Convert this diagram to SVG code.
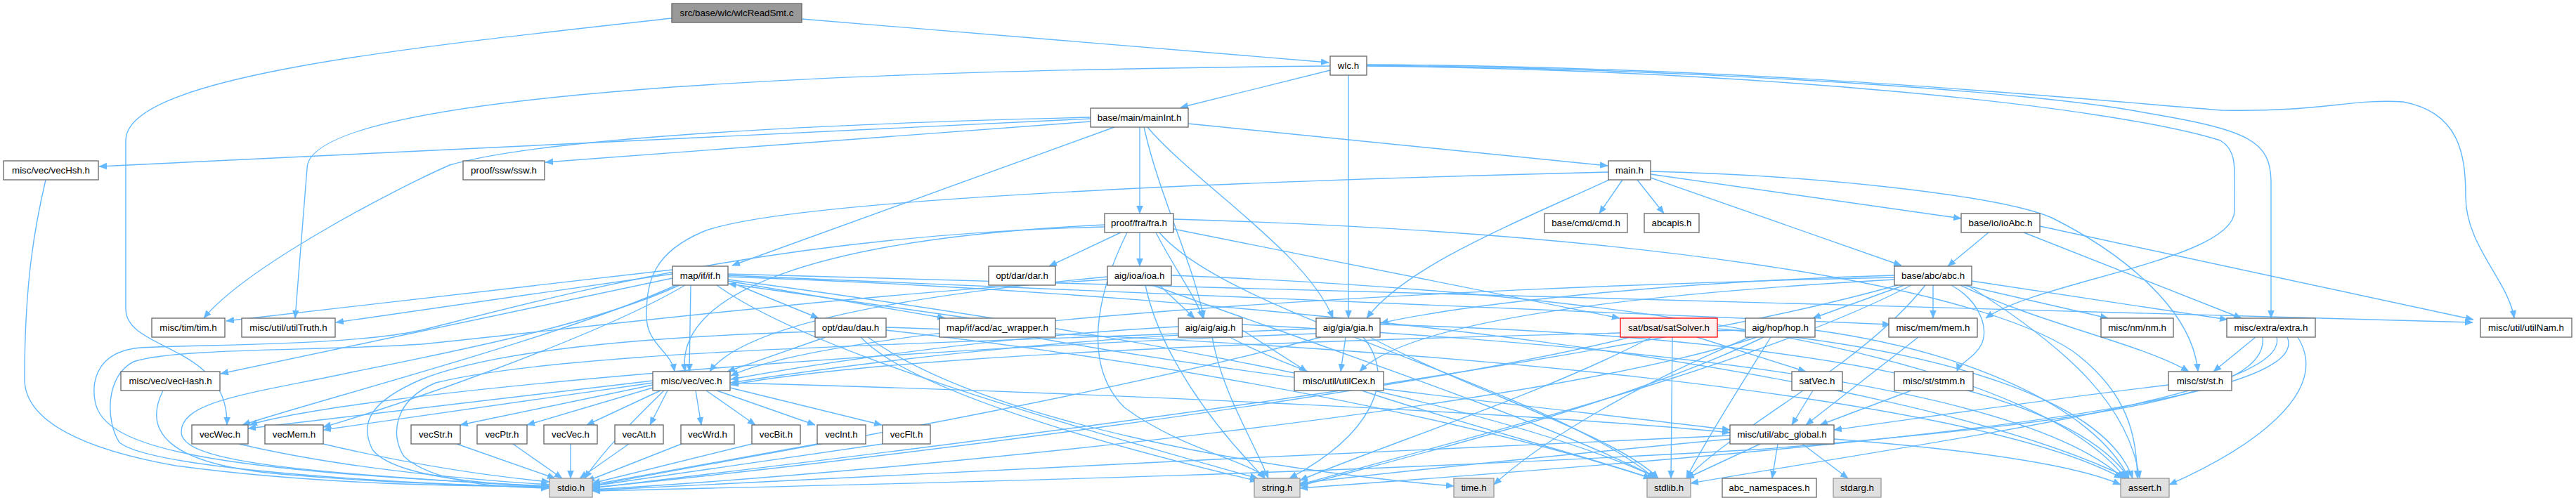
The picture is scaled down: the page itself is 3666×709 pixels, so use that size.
<svg xmlns="http://www.w3.org/2000/svg" width="3666" height="709" viewBox="0 0 3666 709">
<style>
.n rect{fill:#ffffff;stroke:#666666;stroke-width:1.3}
.root rect{fill:#999999;stroke:#666666;stroke-width:1.3}
.sys rect{fill:#e0e0e0;stroke:#999999;stroke-width:1.3}
.trunc rect{fill:#fff0f0;stroke:#ff0000;stroke-width:1.3}
text{font-family:"Liberation Sans",Arial,Helvetica,sans-serif;font-size:13.3px;fill:#000000;text-anchor:middle}
#edges path{fill:none;stroke:#63b8ff;stroke-width:1.4;marker-end:url(#arr)}
</style>
<defs>
<marker id="arr" markerUnits="userSpaceOnUse" markerWidth="12" markerHeight="10" refX="11" refY="4.5" orient="auto">
<path d="M0,0 L11,4.5 L0,9 z" fill="#63b8ff" stroke="#63b8ff" stroke-width="0.5"/>
</marker>
</defs>
<rect width="3666" height="709" fill="#ffffff"/>
<g id="edges">
<!-- wlcReadSmt.c -->
<path d="M1141,27 L1891,89"/>
<path d="M956,26 C560,70 179,110 179,200 L179,440 C179,500 325,490 323,605"/>
<!-- wlc.h -->
<path d="M1893,100 L1680,153"/>
<path d="M1919,107 L1919,453"/>
<path d="M1893,94 C1200,100 437,130 437,240 L420,453"/>
<path d="M1945,94 C2500,100 3000,150 3160,200 C3185,215 3180,240 3180,300 C3180,370 2900,400 2826,453"/>
<path d="M1945,93 C2400,97 2900,130 3050,160 C3200,185 3232,200 3232,260 L3232,453"/>
<path d="M1945,92 C2500,95 2950,140 3162,157 C3300,160 3350,140 3420,145 C3500,160 3509,220 3509,280 C3509,350 3570,400 3578,453"/>
<!-- mainInt.h -->
<path d="M1691,176 L2288,236"/>
<path d="M1552,169 L141,237"/>
<path d="M1552,173 L776,231"/>
<path d="M1552,167 C1100,178 760,200 640,235 C560,270 350,380 290,453"/>
<path d="M1586,181 L1042,378"/>
<path d="M1622,181 L1622,304"/>
<path d="M1628,181 C1650,280 1700,380 1713,453"/>
<path d="M1633,181 C1700,260 1860,360 1897,453"/>
<!-- vecHsh.h -->
<path d="M65,256 C50,320 35,400 35,540 C35,600 120,640 250,663 C450,690 650,692 781,693"/>
<!-- main.h -->
<path d="M2349,253 L2706,378"/>
<path d="M2349,248 L2791,311"/>
<path d="M2349,244 C2600,250 2850,280 2920,310 C3020,360 3120,440 3128,529"/>
<path d="M2309,256 L2276,304"/>
<path d="M2330,256 L2368,304"/>
<path d="M2290,256 C2150,320 2000,380 1945,453"/>
<path d="M2289,245 C1600,262 1100,290 1000,330 C930,360 920,400 920,450 C920,490 955,500 960,529"/>
<!-- fra.h -->
<path d="M1595,331 L1493,379"/>
<path d="M1622,331 L1622,379"/>
<path d="M1645,331 C1670,380 1700,420 1712,453"/>
<path d="M1670,326 L2305,453"/>
<path d="M1572,320 C1150,340 960,420 975,529"/>
<path d="M1572,323 C1100,335 800,420 600,470 C500,492 300,490 200,495 C140,500 130,540 135,570 C145,640 300,670 781,692"/>
<path d="M1604,331 C1560,420 1540,520 1600,580 C1680,640 1790,660 1800,681"/>
<path d="M1650,331 C1750,450 2200,550 2355,681"/>
<path d="M1670,312 C2300,330 2800,400 2950,500 C3030,560 3040,620 3042,681"/>
<!-- ioAbc.h -->
<path d="M2830,331 L2772,379"/>
<path d="M2880,331 L3190,453"/>
<path d="M2903,322 L3520,455"/>
<!-- if.h -->
<path d="M1036,400 L1345,453"/>
<path d="M1050,406 L1165,453"/>
<path d="M983,406 L981,529"/>
<path d="M957,384 L322,457"/>
<path d="M957,390 L478,459"/>
<path d="M957,396 L314,532"/>
<path d="M962,406 C800,480 450,570 345,605"/>
<path d="M975,406 C850,480 560,580 460,608"/>
<path d="M967,406 C850,460 650,500 500,530 C360,560 258,570 258,615 C258,655 400,672 781,693"/>
<path d="M1020,406 C1150,500 1500,600 1790,681"/>
<path d="M1036,398 C1500,460 2100,560 2360,681"/>
<path d="M1036,394 C1800,420 2700,520 3030,681"/>
<path d="M1036,392 L2690,462"/>
<path d="M1036,390 L3519,459"/>
<!-- ioa.h -->
<path d="M1650,406 L1700,453"/>
<path d="M1576,394 C1300,420 1060,460 1010,529"/>
<path d="M1576,398 C1200,420 800,470 600,490 C450,500 250,495 190,515 C150,535 150,600 170,630 C220,670 600,690 781,694"/>
<path d="M1630,406 C1650,500 1720,600 1800,681"/>
<path d="M1640,406 C1900,500 2200,600 2360,681"/>
<path d="M1667,392 C2400,420 2900,520 3025,681"/>
<!-- abc.h -->
<path d="M2710,406 L2580,453"/>
<path d="M2696,392 C2400,400 2100,430 1965,460"/>
<path d="M2751,406 L2751,453"/>
<path d="M2777,406 C2820,430 2830,470 2820,490 C2810,510 2790,515 2785,529"/>
<path d="M2795,406 L3000,453"/>
<path d="M2806,400 L3170,455"/>
<path d="M2790,406 C2900,460 3050,490 3115,529"/>
<path d="M2696,398 C2300,420 2000,460 1935,529"/>
<path d="M2696,395 C2000,410 1200,460 1040,535"/>
<path d="M2700,406 C2300,520 1300,640 843,695"/>
<path d="M2720,406 C2500,520 2100,620 1850,690"/>
<path d="M2740,406 C2650,520 2480,600 2400,681"/>
<path d="M2800,406 C2950,500 3030,580 3045,681"/>
<!-- dau.h -->
<path d="M1175,480 L1035,529"/>
<path d="M1160,472 C900,480 700,500 600,540 C530,570 510,600 530,640 C560,680 700,690 781,692"/>
<path d="M1225,480 C1300,560 1600,640 1790,685"/>
<path d="M1261,470 C1700,520 2100,600 2350,681"/>
<path d="M1261,466 C2000,490 2800,560 3020,681"/>
<path d="M1235,480 C1400,600 1800,670 2069,692"/>
<!-- ac_wrapper.h -->
<path d="M1380,453 L1037,404"/>
<path d="M1470,480 C1800,540 2200,580 2462,612"/>
<!-- aig.h -->
<path d="M1677,465 C1400,480 1150,520 1040,540"/>
<path d="M1768,470 L1860,529"/>
<path d="M1677,475 C1300,490 800,500 620,545 C560,570 555,620 575,650 C620,690 720,694 781,695"/>
<path d="M1725,480 C1740,560 1780,620 1805,681"/>
<path d="M1750,480 C1900,560 2200,630 2350,681"/>
<path d="M1768,462 C2500,500 2900,570 3022,681"/>
<!-- gia.h -->
<path d="M1915,480 L1908,529"/>
<path d="M1873,468 C1500,480 1200,520 1040,545"/>
<path d="M1873,475 C1200,500 500,560 355,605"/>
<path d="M1880,480 C1500,580 1000,660 843,692"/>
<path d="M1940,480 C1990,540 1950,620 1835,681"/>
<path d="M1950,480 C2100,560 2300,620 2360,681"/>
<path d="M1964,462 C2600,480 2950,560 3030,681"/>
<!-- satSolver.h -->
<path d="M2415,480 L2570,529"/>
<path d="M2380,480 L2378,681"/>
<path d="M2350,480 C2200,560 1950,640 1850,684"/>
<path d="M2320,480 C2000,560 1200,660 843,694"/>
<path d="M2444,468 C2800,500 3000,580 3035,681"/>
<!-- hop.h -->
<path d="M2484,470 C2000,480 1300,500 1040,548"/>
<path d="M2490,480 C2300,560 2180,640 2126,690"/>
<path d="M2500,480 C2200,580 1300,670 843,697"/>
<path d="M2510,480 C2300,580 2000,650 1850,692"/>
<path d="M2520,480 C2470,560 2420,640 2400,681"/>
<path d="M2583,470 C2800,500 2980,580 3030,681"/>
<!-- mem.h -->
<path d="M2730,480 L2570,605"/>
<!-- extra.h -->
<path d="M3210,480 L3150,529"/>
<path d="M3220,480 C3230,560 3000,600 2500,640 C1800,680 1200,690 843,699"/>
<path d="M3240,480 C3260,560 2800,620 2406,688"/>
<path d="M3255,480 C3300,580 2600,640 1850,695"/>
<path d="M3270,480 C3320,560 3200,640 3087,690"/>
<!-- vecHash.h -->
<path d="M232,556 C205,610 230,660 400,675 C550,688 700,692 781,693"/>
<!-- vec.h -->
<path d="M950,556 L925,605"/>
<path d="M990,556 L998,605"/>
<path d="M1005,556 L1075,605"/>
<path d="M1020,556 L1160,605"/>
<path d="M1039,552 L1255,605"/>
<path d="M940,556 L835,605"/>
<path d="M929,552 L750,605"/>
<path d="M929,548 L655,605"/>
<path d="M929,545 L460,612"/>
<path d="M929,542 L353,610"/>
<path d="M945,556 C900,600 860,640 832,681"/>
<path d="M1039,545 C1600,560 2200,590 2462,616"/>
<!-- satVec.h, stmm.h, st.h -->
<path d="M2580,556 L2550,605"/>
<path d="M2720,556 L2590,605"/>
<path d="M3086,548 C2900,570 2700,600 2610,612"/>
<!-- vec*.h -> stdio.h -->
<path d="M340,632 C500,670 700,685 781,690"/>
<path d="M460,632 C600,665 720,680 782,686"/>
<path d="M650,632 L790,681"/>
<path d="M730,632 L800,681"/>
<path d="M812,632 L812,681"/>
<path d="M895,632 L825,681"/>
<path d="M970,632 L835,685"/>
<path d="M1070,632 L843,688"/>
<path d="M1163,632 L843,690"/>
<path d="M1256,632 L843,692"/>
<!-- abc_global.h -->
<path d="M2505,632 L2400,681"/>
<path d="M2530,632 L2522,681"/>
<path d="M2565,632 L2630,681"/>
<path d="M2462,625 C2200,650 2000,670 1850,688"/>
<path d="M2462,620 C2000,640 1200,680 843,698"/>
<path d="M2610,625 C2800,640 2950,660 3018,690"/>
</g>
<g id="node-wlcReadSmt" class="root"><rect x="956" y="5" width="185" height="27"/><text x="1048.5" y="23">src/base/wlc/wlcReadSmt.c</text></g>
<g id="node-wlc" class="n"><rect x="1893" y="80" width="52" height="27"/><text x="1919" y="98">wlc.h</text></g>
<g id="node-mainInt" class="n"><rect x="1552" y="154" width="139" height="27"/><text x="1621.5" y="172">base/main/mainInt.h</text></g>
<g id="node-vecHsh" class="n"><rect x="5" y="229" width="135" height="27"/><text x="72.5" y="247">misc/vec/vecHsh.h</text></g>
<g id="node-ssw" class="n"><rect x="659" y="229" width="116" height="27"/><text x="717" y="247">proof/ssw/ssw.h</text></g>
<g id="node-main" class="n"><rect x="2289" y="229" width="60" height="27"/><text x="2319" y="247">main.h</text></g>
<g id="node-fra" class="n"><rect x="1572" y="304" width="98" height="27"/><text x="1621" y="322">proof/fra/fra.h</text></g>
<g id="node-cmd" class="n"><rect x="2198" y="304" width="118" height="27"/><text x="2257" y="322">base/cmd/cmd.h</text></g>
<g id="node-abcapis" class="n"><rect x="2340" y="304" width="78" height="27"/><text x="2379" y="322">abcapis.h</text></g>
<g id="node-ioAbc" class="n"><rect x="2791" y="304" width="112" height="27"/><text x="2847" y="322">base/io/ioAbc.h</text></g>
<g id="node-if" class="n"><rect x="957" y="379" width="79" height="27"/><text x="996.5" y="397">map/if/if.h</text></g>
<g id="node-dar" class="n"><rect x="1407" y="379" width="95" height="27"/><text x="1454.5" y="397">opt/dar/dar.h</text></g>
<g id="node-ioa" class="n"><rect x="1576" y="379" width="91" height="27"/><text x="1621.5" y="397">aig/ioa/ioa.h</text></g>
<g id="node-abc" class="n"><rect x="2696" y="379" width="110" height="27"/><text x="2751" y="397">base/abc/abc.h</text></g>
<g id="node-tim" class="n"><rect x="216" y="453" width="104" height="27"/><text x="268" y="471">misc/tim/tim.h</text></g>
<g id="node-utilTruth" class="n"><rect x="344" y="453" width="133" height="27"/><text x="410.5" y="471">misc/util/utilTruth.h</text></g>
<g id="node-dau" class="n"><rect x="1160" y="453" width="101" height="27"/><text x="1210.5" y="471">opt/dau/dau.h</text></g>
<g id="node-ac_wrapper" class="n"><rect x="1337" y="453" width="165" height="27"/><text x="1419.5" y="471">map/if/acd/ac_wrapper.h</text></g>
<g id="node-aig" class="n"><rect x="1677" y="453" width="91" height="27"/><text x="1722.5" y="471">aig/aig/aig.h</text></g>
<g id="node-gia" class="n"><rect x="1873" y="453" width="91" height="27"/><text x="1918.5" y="471">aig/gia/gia.h</text></g>
<g id="node-satSolver" class="trunc"><rect x="2306" y="453" width="138" height="27"/><text x="2375" y="471">sat/bsat/satSolver.h</text></g>
<g id="node-hop" class="n"><rect x="2484" y="453" width="99" height="27"/><text x="2533.5" y="471">aig/hop/hop.h</text></g>
<g id="node-mem" class="n"><rect x="2688" y="453" width="126" height="27"/><text x="2751" y="471">misc/mem/mem.h</text></g>
<g id="node-nm" class="n"><rect x="2990" y="453" width="103" height="27"/><text x="3041.5" y="471">misc/nm/nm.h</text></g>
<g id="node-extra" class="n"><rect x="3169" y="453" width="126" height="27"/><text x="3232" y="471">misc/extra/extra.h</text></g>
<g id="node-utilNam" class="n"><rect x="3530" y="453" width="130" height="27"/><text x="3595" y="471">misc/util/utilNam.h</text></g>
<g id="node-vecHash" class="n"><rect x="172" y="529" width="141" height="27"/><text x="242.5" y="547">misc/vec/vecHash.h</text></g>
<g id="node-vec" class="n"><rect x="929" y="529" width="110" height="27"/><text x="984" y="547">misc/vec/vec.h</text></g>
<g id="node-utilCex" class="n"><rect x="1842" y="529" width="127" height="27"/><text x="1905.5" y="547">misc/util/utilCex.h</text></g>
<g id="node-satVec" class="n"><rect x="2550" y="529" width="72" height="27"/><text x="2586" y="547">satVec.h</text></g>
<g id="node-stmm" class="n"><rect x="2696" y="529" width="112" height="27"/><text x="2752" y="547">misc/st/stmm.h</text></g>
<g id="node-st" class="n"><rect x="3086" y="529" width="90" height="27"/><text x="3131" y="547">misc/st/st.h</text></g>
<g id="node-vecWec" class="n"><rect x="273" y="605" width="80" height="27"/><text x="313" y="623">vecWec.h</text></g>
<g id="node-vecMem" class="n"><rect x="377" y="605" width="83" height="27"/><text x="418.5" y="623">vecMem.h</text></g>
<g id="node-vecStr" class="n"><rect x="585" y="605" width="70" height="27"/><text x="620" y="623">vecStr.h</text></g>
<g id="node-vecPtr" class="n"><rect x="679" y="605" width="71" height="27"/><text x="714.5" y="623">vecPtr.h</text></g>
<g id="node-vecVec" class="n"><rect x="774" y="605" width="76" height="27"/><text x="812" y="623">vecVec.h</text></g>
<g id="node-vecAtt" class="n"><rect x="875" y="605" width="69" height="27"/><text x="909.5" y="623">vecAtt.h</text></g>
<g id="node-vecWrd" class="n"><rect x="969" y="605" width="76" height="27"/><text x="1007" y="623">vecWrd.h</text></g>
<g id="node-vecBit" class="n"><rect x="1070" y="605" width="69" height="27"/><text x="1104.5" y="623">vecBit.h</text></g>
<g id="node-vecInt" class="n"><rect x="1163" y="605" width="69" height="27"/><text x="1197.5" y="623">vecInt.h</text></g>
<g id="node-vecFlt" class="n"><rect x="1256" y="605" width="68" height="27"/><text x="1290" y="623">vecFlt.h</text></g>
<g id="node-abc_global" class="n"><rect x="2462" y="605" width="148" height="27"/><text x="2536" y="623">misc/util/abc_global.h</text></g>
<g id="node-stdio" class="sys"><rect x="782" y="681" width="61" height="27"/><text x="812.5" y="699">stdio.h</text></g>
<g id="node-string" class="sys"><rect x="1785" y="681" width="65" height="27"/><text x="1817.5" y="699">string.h</text></g>
<g id="node-time" class="sys"><rect x="2069" y="681" width="57" height="27"/><text x="2097.5" y="699">time.h</text></g>
<g id="node-stdlib" class="sys"><rect x="2344" y="681" width="62" height="27"/><text x="2375" y="699">stdlib.h</text></g>
<g id="node-abc_namespaces" class="n"><rect x="2451" y="681" width="134" height="27"/><text x="2518" y="699">abc_namespaces.h</text></g>
<g id="node-stdarg" class="sys"><rect x="2609" y="681" width="68" height="27"/><text x="2643" y="699">stdarg.h</text></g>
<g id="node-assert" class="sys"><rect x="3018" y="681" width="69" height="27"/><text x="3052.5" y="699">assert.h</text></g>
</svg>
